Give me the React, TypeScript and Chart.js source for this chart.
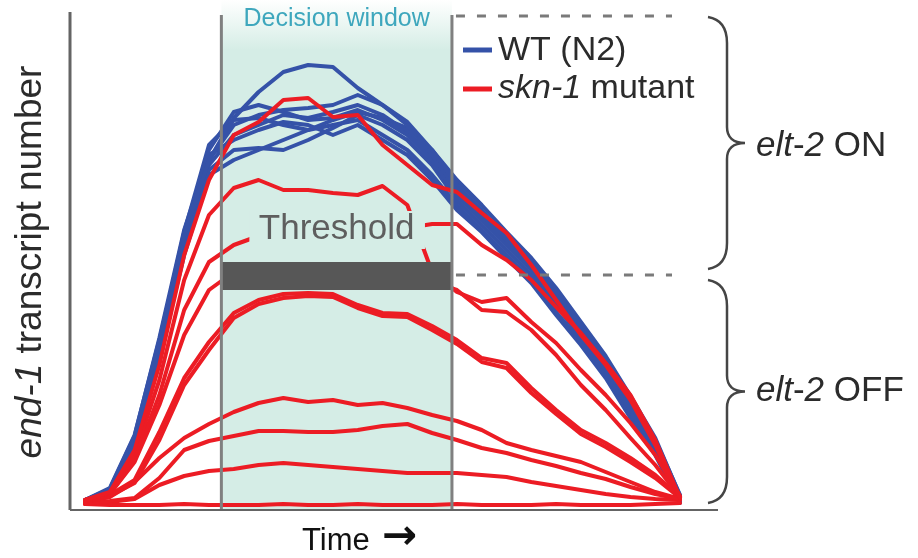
import React, { useEffect, useRef } from "react";
import { Chart, registerables } from "chart.js";

Chart.register(...registerables);

// ---- data ----
const TIME = [0, 1, 2, 3, 4, 5, 6, 7, 8, 9, 10, 11, 12, 13, 14, 15, 16, 17, 18, 19, 20, 21, 22, 23, 24];

const WT_1 = [2, 4.4, 15, 34, 55, 70, 78.4, 83.6, 87.6, 89, 88.6, 84.4, 81, 77.6, 72, 65, 60, 54.4, 49.6, 43.6, 37, 30, 22, 14, 3];
const WT_2 = [1.6, 3.6, 13, 32, 54, 70, 77, 79, 80, 80.4, 81, 83, 81, 77, 71, 64, 59, 54, 48.4, 42, 35.6, 29, 21, 13, 2.4];
const WT_3 = [2, 4, 14, 33, 55, 72, 79.6, 81, 79.6, 78, 78.4, 80, 78, 75, 70, 63, 58, 53, 48, 41.6, 35, 28, 20, 12.4, 2];
const WT_4 = [1.4, 3.2, 12, 30, 52, 68, 72, 72.4, 72, 74, 76.4, 79, 77, 74, 69, 62, 57, 52, 47, 41, 34.4, 27.6, 19.6, 12, 2];
const WT_5 = [2, 4, 14.4, 33.6, 55.6, 73, 78, 78.4, 77, 76, 77, 78, 75, 72, 67, 61, 56, 51, 46, 39.6, 33.6, 27, 19, 11.6, 1.6];
const WT_6 = [1.8, 3.8, 13.6, 31, 53, 69, 75, 77, 79, 78.4, 79.6, 81, 79, 75.6, 70.4, 63.6, 58.4, 53.4, 48.8, 42.8, 36, 29.6, 21.6, 13.2, 2.6];
const WT_7 = [2, 4.2, 14.8, 34.4, 56, 71, 74, 76, 77.6, 77, 75, 77, 74, 71, 66, 60, 55.6, 50.4, 45.4, 39, 33, 26.4, 18.4, 11, 1.4];
const WT_8 = [1.6, 3.4, 12.4, 30.4, 51, 67, 70, 72, 74, 76, 78, 79.6, 78.4, 76.4, 72, 66, 61, 55.6, 50.4, 44.4, 37.6, 30.8, 22.8, 14.4, 2.8];

const SKN_1 = [2, 3.6, 12, 29, 51, 66, 75, 77.6, 82, 82.4, 78.6, 79, 73, 69, 65, 63.6, 59.4, 55.4, 49, 42, 35, 29, 22, 13, 2.4];
const SKN_2 = [2, 3.4, 11, 26, 46, 59, 64.4, 66, 64, 64, 63.4, 63, 64.8, 61, 47.6, 43.6, 41.6, 42.4, 37.6, 33.4, 28, 23, 17.4, 11, 2.8];
const SKN_3 = [1.8, 3.2, 10, 23, 40, 49.6, 53, 54.8, 55.4, 55.6, 55.6, 55.6, 56, 56.4, 57.2, 57.2, 53, 50, 46, 40.6, 35.4, 29.4, 23, 14, 2.4];
const SKN_4 = [2, 3.2, 9.6, 21, 35, 44, 47.6, 48.4, 48, 47.6, 47.6, 47.2, 46.8, 46.4, 45.6, 44, 40, 39.6, 36, 31, 25, 20, 14.4, 9, 2.6];
const SKN_5 = [1.8, 3, 6, 15.6, 26.4, 33.6, 39.4, 42, 43.2, 43.4, 43.2, 41, 39.4, 39.2, 36.8, 34, 30.4, 29.4, 24.4, 20, 16, 13.4, 10.4, 7, 2.6];
const SKN_6 = [1.6, 2.8, 5.4, 14, 25, 32, 38.4, 41.2, 42.4, 42.8, 42.6, 40.4, 38.8, 38.6, 36, 33.2, 29.6, 28.4, 23.4, 19.2, 15.2, 12.6, 9.6, 6.4, 2.4];
const SKN_7 = [1.6, 2.6, 5.6, 10.4, 14.4, 17.2, 19.6, 21.4, 22.4, 21.6, 22, 21, 21.4, 20.4, 19, 17.8, 16, 13.4, 12, 10.8, 9.6, 7.6, 5.6, 3.6, 2.2];
const SKN_8 = [1.4, 1.8, 2.4, 6.4, 12, 13.8, 14.8, 15.8, 15.8, 15.6, 15.6, 16, 16.8, 17.2, 15.4, 14, 12.4, 11.4, 10, 8.8, 7.4, 6.2, 4.6, 3.2, 2.2];
const SKN_9 = [1.2, 1.6, 2.2, 5, 6.8, 7.8, 8.2, 9, 9.4, 9, 8.6, 8.2, 7.8, 7.4, 7.4, 7.4, 7, 6.6, 5.6, 4.8, 4, 3.2, 2.6, 2.2, 2];
const SKN_10 = [1.2, 1, 1, 1, 1.2, 1, 1, 1, 1.2, 1, 1, 1.2, 1, 1, 1, 1.2, 1, 1, 1, 1.2, 1, 1, 1, 1.2, 1.4];

const WT_SERIES = [WT_1, WT_2, WT_3, WT_4, WT_5, WT_6, WT_7, WT_8];
const SKN_SERIES = [SKN_1, SKN_2, SKN_3, SKN_4, SKN_5, SKN_6, SKN_7, SKN_8, SKN_9, SKN_10];

const DECISION_WINDOW = [5.5, 14.8];
const THRESHOLD_BAND = [44, 49.6];
const THRESHOLD_LEVEL = 47;
const ON_LEVEL = 98.8;
const X_RANGE = [-0.605, 25.53];
const Y_RANGE = [0, 99.6];

const LEGEND_LABELS = ["WT (N2)", "skn-1 mutant"];

// ---- styles ----
const BLUE = "#3552a8";
const RED = "#ec1c24";
const SHADE = "#d5ede6";
const FONT = '"Liberation Sans", Arial, Helvetica, sans-serif';

type Run = [string, boolean];

function drawRuns(ctx: CanvasRenderingContext2D, runs: Run[], x: number, y: number, size: number, color: string) {
  let cx = x;
  ctx.fillStyle = color;
  ctx.textBaseline = "middle";
  ctx.textAlign = "left";
  for (const [t, it] of runs) {
    ctx.font = `${it ? "italic " : ""}${size}px ${FONT}`;
    ctx.fillText(t, cx, y);
    cx += ctx.measureText(t).width;
  }
  return cx - x;
}

function runsWidth(ctx: CanvasRenderingContext2D, runs: Run[], size: number) {
  let w = 0;
  for (const [t, it] of runs) {
    ctx.font = `${it ? "italic " : ""}${size}px ${FONT}`;
    w += ctx.measureText(t).width;
  }
  return w;
}

function drawBrace(ctx: CanvasRenderingContext2D, x0: number, xv: number, tip: number, y0: number, y1: number) {
  const mid = (y0 + y1) / 2;
  const r = 26;
  const rt = 12;
  ctx.beginPath();
  ctx.moveTo(x0, y0);
  ctx.bezierCurveTo(x0 + 12, y0 + 2, xv, y0 + 10, xv, y0 + r);
  ctx.lineTo(xv, mid - rt - 4);
  ctx.bezierCurveTo(xv, mid - 6, xv + 6, mid, tip, mid);
  ctx.bezierCurveTo(xv + 6, mid, xv, mid + 6, xv, mid + rt + 4);
  ctx.lineTo(xv, y1 - r);
  ctx.bezierCurveTo(xv, y1 - 10, x0 + 12, y1 - 2, x0, y1);
  ctx.stroke();
}

const decorPlugin = {
  id: "decor",
  beforeDatasetsDraw(chart: any) {
    const ctx: CanvasRenderingContext2D = chart.ctx;
    const xs = chart.scales.x;
    const ys = chart.scales.y;
    const wl = xs.getPixelForValue(DECISION_WINDOW[0]);
    const wr = xs.getPixelForValue(DECISION_WINDOW[1]);
    const yb = ys.getPixelForValue(0);
    ctx.save();
    const g = ctx.createLinearGradient(0, 0, 0, 50);
    g.addColorStop(0, "#ffffff");
    g.addColorStop(1, SHADE);
    ctx.fillStyle = g;
    ctx.fillRect(wl, 0, wr - wl, yb);
    ctx.restore();
  },
  afterDatasetsDraw(chart: any) {
    const ctx: CanvasRenderingContext2D = chart.ctx;
    const xs = chart.scales.x;
    const ys = chart.scales.y;
    const area = chart.chartArea;
    const wl = xs.getPixelForValue(DECISION_WINDOW[0]);
    const wr = xs.getPixelForValue(DECISION_WINDOW[1]);
    const yb = ys.getPixelForValue(0);
    const yOn = ys.getPixelForValue(ON_LEVEL);
    const yTh = ys.getPixelForValue(THRESHOLD_LEVEL);
    ctx.save();

    // threshold label with shaded background
    ctx.fillStyle = SHADE;
    ctx.fillRect(wl + 28, ys.getPixelForValue(59.8), wr - wl - 55, 38);
    ctx.font = `35px ${FONT}`;
    ctx.fillStyle = "#5e5e5e";
    ctx.textAlign = "center";
    ctx.textBaseline = "middle";
    ctx.fillText("Threshold", (wl + wr) / 2, ys.getPixelForValue(56.2));

    // threshold bar
    const bt = ys.getPixelForValue(THRESHOLD_BAND[1]);
    const bb = ys.getPixelForValue(THRESHOLD_BAND[0]);
    ctx.fillStyle = "#575757";
    ctx.fillRect(wl, bt, wr - wl, bb - bt);

    // window borders
    ctx.strokeStyle = "#808080";
    ctx.lineWidth = 3;
    ctx.beginPath();
    ctx.moveTo(wl, yOn - 1);
    ctx.lineTo(wl, yb);
    ctx.moveTo(wr, yOn - 1);
    ctx.lineTo(wr, yb);
    ctx.stroke();

    // dashed level lines
    ctx.setLineDash([9, 12]);
    ctx.lineWidth = 3;
    ctx.strokeStyle = "#7a7a7a";
    ctx.beginPath();
    ctx.moveTo(wr + 4, yOn);
    ctx.lineTo(672, yOn);
    ctx.moveTo(wr + 4, yTh);
    ctx.lineTo(672, yTh);
    ctx.stroke();
    ctx.setLineDash([]);

    // axes
    ctx.strokeStyle = "#646464";
    ctx.lineWidth = 3;
    ctx.beginPath();
    ctx.moveTo(area.left, area.top);
    ctx.lineTo(area.left, yb);
    ctx.stroke();
    ctx.lineWidth = 2;
    ctx.beginPath();
    ctx.moveTo(area.left, yb);
    ctx.lineTo(area.right, yb);
    ctx.stroke();

    // braces
    ctx.strokeStyle = "#454545";
    ctx.lineWidth = 2.5;
    drawBrace(ctx, 708, 727, 745, yOn + 1, yTh - 6);
    drawBrace(ctx, 708, 727, 745, yTh + 5, yb - 7);

    drawRuns(ctx, [["elt", true], ["-", false], ["2", true], [" ON", false]], 756, (yOn + yTh) / 2 + 1, 35, "#2b2b2b");
    drawRuns(ctx, [["elt", true], ["-", false], ["2", true], [" OFF", false]], 756, (yTh + yb) / 2 - 1, 35, "#2b2b2b");

    // legend
    ctx.lineWidth = 5;
    ctx.strokeStyle = BLUE;
    ctx.beginPath();
    ctx.moveTo(463, 50);
    ctx.lineTo(492, 50);
    ctx.stroke();
    ctx.strokeStyle = RED;
    ctx.beginPath();
    ctx.moveTo(463, 89);
    ctx.lineTo(492, 89);
    ctx.stroke();
    drawRuns(ctx, [[LEGEND_LABELS[0], false]], 498, 51, 34, "#2b2b2b");
    const parts = LEGEND_LABELS[1].split(" ");
    drawRuns(ctx, [[parts[0], true], [" " + parts.slice(1).join(" "), false]], 498, 89, 34, "#2b2b2b");

    // decision window title
    ctx.font = `25px ${FONT}`;
    ctx.fillStyle = "#3ea7bd";
    ctx.textAlign = "center";
    ctx.textBaseline = "middle";
    ctx.fillText("Decision window", (wl + wr) / 2, 19);

    // x title
    ctx.font = `31px ${FONT}`;
    ctx.fillStyle = "#111111";
    ctx.textAlign = "left";
    ctx.textBaseline = "alphabetic";
    ctx.fillText("Time", 302, 550);
    ctx.font = `bold 42px "DejaVu Sans", sans-serif`;
    ctx.textBaseline = "middle";
    ctx.fillText("\u2192", 382, 538);

    // y title
    const yRuns: Run[] = [["end-1", true], [" transcript number", false]];
    const w = runsWidth(ctx, yRuns, 37);
    ctx.translate(31, 262);
    ctx.rotate(-Math.PI / 2);
    drawRuns(ctx, yRuns, -w / 2, 0, 37, "#2b2b2b");
    ctx.restore();
  },
};

export default function App() {
  const ref = useRef<HTMLCanvasElement | null>(null);

  useEffect(() => {
    if (!ref.current) return;
    document.body.style.margin = "0";
    const mk = (arr: number[]) => arr.map((v, i) => ({ x: TIME[i], y: v }));
    const datasets: any[] = [];
    SKN_SERIES.forEach((s, i) =>
      datasets.push({ label: `skn-1 ${i + 1}`, data: mk(s), borderColor: RED, borderWidth: 4, order: 0 })
    );
    WT_SERIES.forEach((s, i) =>
      datasets.push({ label: `WT ${i + 1}`, data: mk(s), borderColor: BLUE, borderWidth: 4, order: 1 })
    );
    const chart = new Chart(ref.current, {
      type: "line",
      data: { datasets },
      options: {
        responsive: false,
        animation: false,
        devicePixelRatio: 1,
        layout: { padding: { left: 70, right: 200, top: 12, bottom: 48 } },
        elements: {
          point: { radius: 0 },
          line: { tension: 0, borderJoinStyle: "round", borderCapStyle: "round" },
        },
        scales: {
          x: { type: "linear", min: X_RANGE[0], max: X_RANGE[1], display: false },
          y: { type: "linear", min: Y_RANGE[0], max: Y_RANGE[1], display: false },
        },
        plugins: { legend: { display: false }, tooltip: { enabled: false } },
      },
      plugins: [decorPlugin],
    } as any);
    return () => chart.destroy();
  }, []);

  return (
    <div style={{ position: "absolute", left: 0, top: 0, width: 918, height: 558, background: "#fff" }}>
      <canvas ref={ref} width={918} height={558} style={{ display: "block" }} />
    </div>
  );
}
